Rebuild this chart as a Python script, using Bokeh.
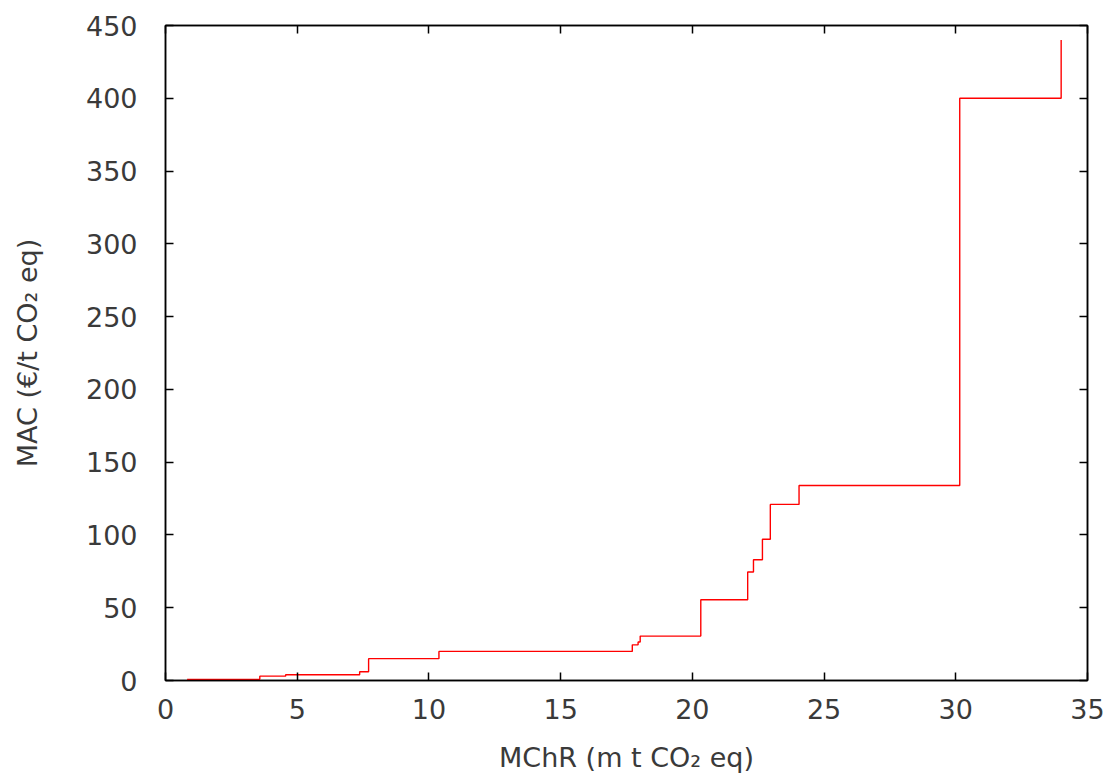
from bokeh.plotting import figure
from bokeh.models import LinearAxis, FixedTicker, Range1d
from bokeh.embed import file_html
from bokeh.resources import INLINE

# Data
mchr = [0.82, 3.58, 4.56, 7.37, 7.71, 10.38, 17.72, 17.94, 18.02, 20.32,
        22.10, 22.32, 22.66, 22.96, 24.05, 30.15, 34.0]
mac = [0.8, 3, 4, 6, 15, 20, 24.5, 26.5, 30.5, 55.5,
       74.5, 83, 97, 121, 134, 400, 440]
x_ticks = [0, 5, 10, 15, 20, 25, 30, 35]
y_ticks = [0, 50, 100, 150, 200, 250, 300, 350, 400, 450]

FONT = "DejaVu Sans"
FS = "27px"
TXT = "#3a3a3a"

p = figure(width=1110, height=778, output_backend="svg", toolbar_location=None,
           x_range=Range1d(0, 35), y_range=Range1d(0, 450),
           min_border_left=165, min_border_right=23, min_border_top=25,
           min_border_bottom=98, x_axis_label="MChR (m t CO₂ eq)",
           y_axis_label="MAC (€/t CO₂ eq)")
p.grid.visible = False
p.outline_line_color = "black"
p.outline_line_width = 1.5
p.background_fill_color = "white"
p.border_fill_color = "white"

p.step(mchr, mac, mode="after", line_color="#ff0000", line_width=1.4)

for ax, ticks in ((p.xaxis[0], x_ticks), (p.yaxis[0], y_ticks)):
    ax.ticker = FixedTicker(ticks=ticks)
    ax.major_tick_in = 8
    ax.major_tick_out = 0
    ax.minor_tick_line_color = None
    ax.axis_line_color = "black"
    ax.axis_line_width = 1.5
    ax.major_tick_line_width = 1.5
    ax.major_label_text_font = FONT
    ax.major_label_text_font_size = FS
    ax.major_label_text_color = TXT
    ax.axis_label_text_font = FONT
    ax.axis_label_text_font_size = FS
    ax.axis_label_text_font_style = "normal"
    ax.axis_label_text_color = TXT

p.xaxis[0].major_label_standoff = 18
p.xaxis[0].axis_label_standoff = 20
p.yaxis[0].major_label_standoff = 28
p.yaxis[0].axis_label_standoff = 40

# mirrored ticks on top and right
top = LinearAxis(ticker=FixedTicker(ticks=x_ticks))
right = LinearAxis(ticker=FixedTicker(ticks=y_ticks))
for ax in (top, right):
    ax.major_tick_in = 8
    ax.major_tick_out = 0
    ax.minor_tick_line_color = None
    ax.major_label_text_font_size = "0px"
    ax.major_label_text_color = None
    ax.axis_line_color = "black"
    ax.axis_line_width = 1.5
    ax.major_tick_line_width = 1.5
    ax.major_label_standoff = 0
p.add_layout(top, "above")
p.add_layout(right, "right")

open("out.html", "w").write(file_html(p, INLINE))
